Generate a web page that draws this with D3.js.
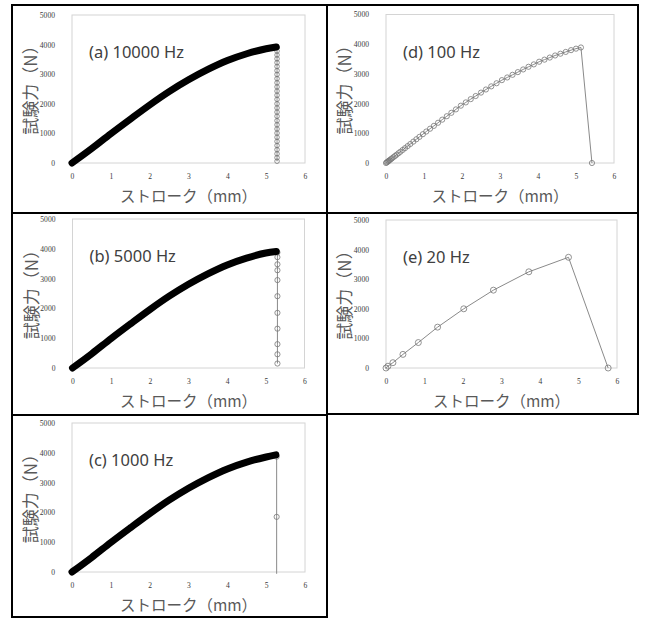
<!DOCTYPE html>
<html>
<head>
<meta charset="utf-8">
<script src="https://cdn.jsdelivr.net/npm/d3@7"></script>
<style>
  body { margin: 0; background: #fff; }
  svg { display: block; }
  .tick text { font-family: "Liberation Serif", serif; font-size: 7.6px; fill: #3a3a3a; }
</style>
</head>
<body>
<div id="chart"></div>
<script>
// tick labels
const xTicks = [0, 1, 2, 3, 4, 5, 6];
const yTicks = [0, 1000, 2000, 3000, 4000, 5000];

// (a) 10000 Hz : dense rising part + falling column of markers
const aRiseX = [0, 0.5, 1, 1.5, 2, 2.5, 3, 3.5, 4, 4.5, 5, 5.26];
const aRiseY = [0, 480, 990, 1480, 1960, 2410, 2810, 3160, 3460, 3690, 3860, 3920];
const aDropX = 5.28;
const aDropY = [3900, 3780, 3650, 3520, 3390, 3260, 3120, 2990, 2850, 2710, 2570, 2430, 2290, 2150,
  2000, 1860, 1720, 1580, 1430, 1290, 1150, 1010, 870, 730, 590, 450, 310, 180, 60];

// (b) 5000 Hz
const bRiseX = [0, 0.5, 1, 1.5, 2, 2.5, 3, 3.5, 4, 4.5, 5, 5.27];
const bRiseY = [0, 480, 990, 1480, 1960, 2410, 2810, 3160, 3460, 3690, 3860, 3910];
const bDropX = 5.3;
const bDropY = [3880, 3720, 3480, 3280, 2950, 2410, 1850, 1320, 800, 460, 150];

// (c) 1000 Hz
const cRiseX = [0, 0.5, 1, 1.5, 2, 2.5, 3, 3.5, 4, 4.5, 5, 5.25];
const cRiseY = [0, 480, 990, 1480, 1960, 2410, 2810, 3160, 3460, 3690, 3860, 3930];
const cDropX = 5.27;
const cDropY = [3870, 1850, -60];

// (d) 100 Hz
const dX = [0, 0.02, 0.04, 0.06, 0.08, 0.1, 0.13, 0.16, 0.2, 0.24, 0.28, 0.33, 0.38, 0.44, 0.5, 0.57,
  0.64, 0.72, 0.8, 0.88, 0.97, 1.06, 1.16, 1.26, 1.37, 1.48, 1.6, 1.72, 1.84, 1.97, 2.1, 2.23, 2.36,
  2.5, 2.63, 2.77, 2.91, 3.05, 3.19, 3.33, 3.47, 3.61, 3.75, 3.89, 4.03, 4.17, 4.31, 4.45, 4.59, 4.73,
  4.87, 5.0, 5.13, 5.42];
const dY = [0, 20, 40, 60, 80, 100, 130, 160, 200, 240, 280, 330, 380, 440, 500, 570,
  640, 720, 800, 880, 970, 1060, 1155, 1250, 1355, 1460, 1575, 1690, 1805, 1930, 2040, 2150, 2255,
  2370, 2475, 2580, 2685, 2790, 2880, 2970, 3060, 3150, 3240, 3320, 3410, 3480, 3550, 3620, 3680, 3740,
  3800, 3850, 3890, 0];

// (e) 20 Hz
const eX = [0, 0.05, 0.18, 0.44, 0.84, 1.34, 2.02, 2.79, 3.71, 4.74, 5.77];
const eY = [0, 60, 180, 460, 860, 1380, 2000, 2630, 3250, 3740, 0];

const panels = [
  { label: '(a) 10000 Hz', left: 72, right: 305, top: 15, bottom: 163,
    rise: d3.zip(aRiseX, aRiseY), pts: aDropY.map(v => [aDropX, v]), r: 2.3 },
  { label: '(b) 5000 Hz', left: 72.5, right: 304.5, top: 219, bottom: 368,
    rise: d3.zip(bRiseX, bRiseY), pts: bDropY.map(v => [bDropX, v]), r: 2.6 },
  { label: '(c) 1000 Hz', left: 72, right: 305, top: 423, bottom: 572,
    rise: d3.zip(cRiseX, cRiseY), pts: cDropY.map(v => [cDropX, v]), r: 2.6 },
  { label: '(d) 100 Hz', left: 386, right: 614, top: 14.5, bottom: 163,
    rise: null, pts: d3.zip(dX, dY), r: 2.6 },
  { label: '(e) 20 Hz', left: 386, right: 617, top: 220, bottom: 368,
    rise: null, pts: d3.zip(eX, eY), r: 3 }
];

// panel borders
const boxes = [
  [12, 5, 327, 213], [12, 213, 327, 415], [12, 415, 327, 617],
  [327, 5, 638, 213], [327, 213, 638, 414]
];

const svg = d3.select('#chart').append('svg')
  .attr('width', 645).attr('height', 619);

boxes.forEach(b => {
  svg.append('rect')
    .attr('x', b[0]).attr('y', b[1])
    .attr('width', b[2] - b[0]).attr('height', b[3] - b[1])
    .attr('fill', 'none').attr('stroke', '#000').attr('stroke-width', 2);
});

panels.forEach(p => {
  const x = d3.scaleLinear().domain([0, 6]).range([p.left, p.right]);
  const y = d3.scaleLinear().domain([0, 5000]).range([p.bottom, p.top]);
  const g = svg.append('g');

  // plot area frame
  g.append('rect')
    .attr('x', p.left).attr('y', p.top)
    .attr('width', p.right - p.left).attr('height', p.bottom - p.top)
    .attr('fill', 'none').attr('stroke', '#d4d4d4').attr('stroke-width', 1);

  const xAxis = g.append('g')
    .attr('transform', `translate(0,${p.bottom})`)
    .call(d3.axisBottom(x).tickValues(xTicks).tickSize(0).tickPadding(11).tickFormat(d3.format('d')));
  xAxis.select('.domain').remove();
  const yAxis = g.append('g')
    .attr('transform', `translate(${p.left},0)`)
    .call(d3.axisLeft(y).tickValues(yTicks).tickSize(0).tickPadding(17).tickFormat(d3.format('d')));
  yAxis.select('.domain').remove();

  const line = d3.line().x(d => x(d[0])).y(d => y(d[1]));

  // thin grey connecting line through the marker series
  const conn = p.rise ? [p.rise[p.rise.length - 1]].concat(p.pts) : p.pts;
  g.append('path')
    .datum(conn)
    .attr('d', line)
    .attr('fill', 'none').attr('stroke', '#8a8a8a').attr('stroke-width', 1);

  g.selectAll('circle.m')
    .data(p.pts.filter(d => d[1] >= 0))
    .join('circle')
    .attr('class', 'm')
    .attr('cx', d => x(d[0])).attr('cy', d => y(d[1]))
    .attr('r', p.r)
    .attr('fill', 'none').attr('stroke', '#777').attr('stroke-width', 0.8);

  // dense part drawn as heavy black line
  if (p.rise) {
    g.append('path')
      .datum(p.rise)
      .attr('d', line.curve(d3.curveMonotoneX))
      .attr('fill', 'none').attr('stroke', '#000')
      .attr('stroke-width', 7)
      .attr('stroke-linecap', 'round').attr('stroke-linejoin', 'round');
  }

  g.append('text')
    .attr('x', p.left + 17).attr('y', p.top + 43)
    .style('font-family', '"Noto Sans", sans-serif')
    .style('font-size', '16.5px')
    .style('fill', '#404040')
    .text(p.label);

  const cy = (p.top + p.bottom) / 2 - 3;
  g.append('text')
    .attr('transform', `translate(${p.left - 35},${cy}) rotate(-90)`)
    .attr('text-anchor', 'middle')
    .style('font-family', '"Noto Sans CJK JP", sans-serif')
    .style('font-size', '17px')
    .style('fill', '#595959')
    .text('試験力（N）');

  g.append('text')
    .attr('x', (p.left + p.right) / 2).attr('y', p.bottom + 39)
    .attr('text-anchor', 'middle')
    .style('font-family', '"Noto Sans CJK JP", sans-serif')
    .style('font-size', '15.5px')
    .style('fill', '#595959')
    .text('ストローク（mm）');
});
</script>
</body>
</html>
